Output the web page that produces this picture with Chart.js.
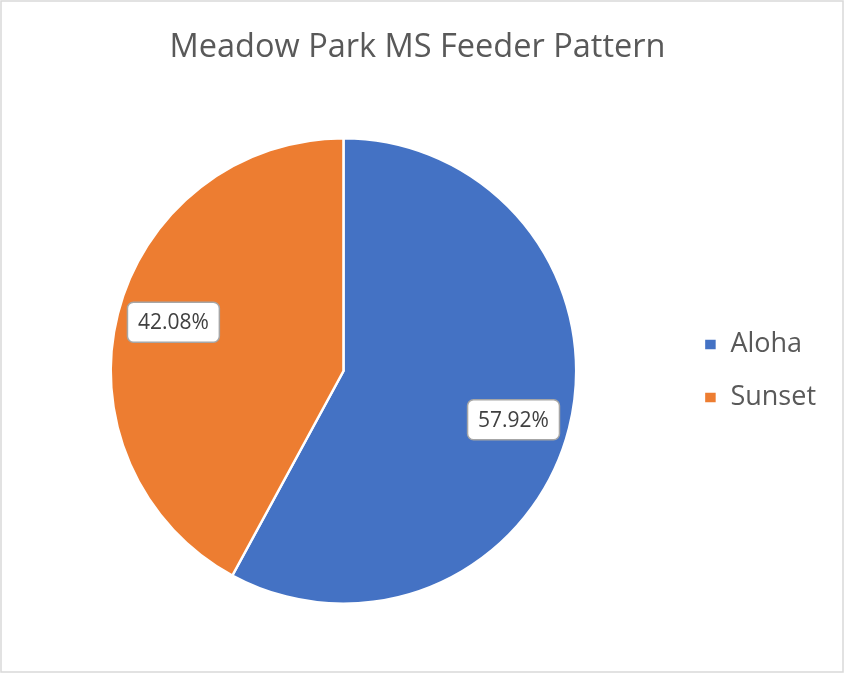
<!DOCTYPE html>
<html lang="en">
<head>
    <meta charset="UTF-8">
    <title>Meadow Park MS Feeder Pattern</title>
    <style>
        body { margin: 0; background: #fff; }
        #wrap { width: 844px; height: 673px; }
    </style>
</head>
<body>
    <div id="wrap">
        <canvas id="feederChart" width="844" height="673"></canvas>
    </div>

    <script src="https://cdn.jsdelivr.net/npm/chart.js"></script>
    <script>
        // data
        const schools = ['Aloha', 'Sunset'];
        const shares = [57.92, 42.08];
        const sliceColors = ['#4472C4', '#ED7D31'];

        const FONT = "'Open Sans', 'Liberation Sans', sans-serif";

        // white page + thin grey frame like the excel chart box
        const frame = {
            id: 'frame',
            beforeDraw(chart) {
                const c = chart.ctx;
                c.save();
                c.fillStyle = '#fff';
                c.fillRect(0, 0, chart.width, chart.height);
                c.strokeStyle = '#d9d9d9';
                c.lineWidth = 1.5;
                c.strokeRect(1, 1, chart.width - 2, chart.height - 2);
                c.restore();
            }
        };

        // percentage labels in white rounded boxes
        const sliceLabels = {
            id: 'sliceLabels',
            afterDatasetsDraw(chart) {
                const c = chart.ctx;
                const meta = chart.getDatasetMeta(0);
                const vals = chart.data.datasets[0].data;
                const total = vals.reduce((a, b) => a + b, 0);
                c.save();
                c.font = '21px ' + FONT;
                c.textAlign = 'center';
                c.textBaseline = 'middle';
                meta.data.forEach((arc, i) => {
                    const p = arc.getProps(['x', 'y', 'startAngle', 'endAngle', 'outerRadius'], true);
                    // excel's "best fit" sits a touch past the bisector, going clockwise
                    const mid = (p.startAngle + p.endAngle) / 2 + 0.03;
                    const r = p.outerRadius * 0.76;
                    const cx = p.x + Math.cos(mid) * r;
                    const cy = p.y + Math.sin(mid) * r;
                    const txt = (vals[i] / total * 100).toFixed(2) + '%';
                    const w = c.measureText(txt).width + 21;
                    const h = 40;
                    c.beginPath();
                    c.roundRect(cx - w / 2, cy - h / 2, w, h, 6);
                    c.fillStyle = '#fff';
                    c.fill();
                    c.strokeStyle = '#a6a6a6';
                    c.lineWidth = 1.5;
                    c.stroke();
                    c.fillStyle = '#404040';
                    c.fillText(txt, cx, cy + 1);
                });
                c.restore();
            }
        };

        new Chart(document.getElementById('feederChart'), {
            type: 'pie',
            data: {
                labels: schools,
                datasets: [{
                    data: shares,
                    backgroundColor: sliceColors,
                    borderColor: '#fff',
                    borderWidth: 2.5
                }]
            },
            options: {
                responsive: false,
                animation: false,
                layout: {
                    padding: { left: 9, right: 18, top: 0, bottom: 68 }
                },
                plugins: {
                    title: {
                        display: true,
                        text: 'Meadow Park MS Feeder Pattern',
                        color: '#595959',
                        font: { family: FONT, size: 32.5, weight: 'normal', lineHeight: 1.2 },
                        padding: { top: 28, bottom: 70 }
                    },
                    legend: {
                        position: 'right',
                        fullSize: false,
                        labels: {
                            color: '#595959',
                            font: { family: FONT, size: 27 },
                            boxWidth: 13,
                            boxHeight: 12,
                            padding: 26
                        }
                    },
                    tooltip: { enabled: false }
                }
            },
            plugins: [frame, sliceLabels]
        });
    </script>
</body>
</html>
